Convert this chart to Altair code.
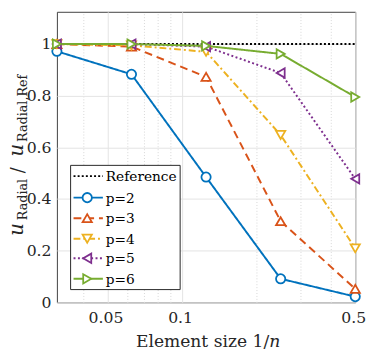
import altair as alt
import pandas as pd

# ---- data ----
element_size = [1/32, 1/16, 1/8, 1/4, 1/2]
series_names = ["p=2", "p=3", "p=4", "p=5", "p=6"]
p2 = [0.972, 0.883, 0.485, 0.091, 0.022]
p3 = [1.0, 0.99, 0.873, 0.314, 0.052]
p4 = [1.0, 0.995, 0.970, 0.648, 0.209]
p5 = [1.0, 1.0, 0.990, 0.888, 0.478]
p6 = [1.0, 1.0, 0.993, 0.962, 0.795]
reference_x = [1/32, 1/2]
reference_y = [1.0, 1.0]

x_major_ticks = [0.05, 0.1, 0.5]
x_minor_ticks = [0.04, 0.06, 0.07, 0.08, 0.09, 0.2, 0.3, 0.4]
y_ticks = [0, 0.2, 0.4, 0.6, 0.8, 1.0]

all_names = ["Reference"] + series_names
colors = ["#000000", "#0072BD", "#D95319", "#EDB120", "#7E2F8E", "#77AC30"]
dashes = [[2, 2.2], [1, 0], [8, 5], [7, 3, 2, 3], [2, 2.5], [1, 0]]
shapes = ["circle", "triangle-up", "triangle-down", "triangle-left", "triangle-right"]

rows = []
for name, ys in zip(series_names, [p2, p3, p4, p5, p6]):
    for x, y in zip(element_size, ys):
        rows.append({"x": x, "y": y, "series": name})
pts = pd.DataFrame(rows)
ref = pd.DataFrame({"x": reference_x, "y": reference_y, "series": ["Reference"] * 2})
lines_df = pd.concat([ref, pts], ignore_index=True)

FONT = "DejaVu Serif"
GRID = "#e3e3e3"

color_scale = alt.Scale(domain=all_names, range=colors)
x_scale = alt.Scale(type="log", domain=[1/32, 0.5], nice=False)
y_scale = alt.Scale(domain=[0, 1.125], nice=False, zero=False)

y_axis = alt.Axis(values=y_ticks, format="~g", title=None, grid=True, gridColor=GRID,
                  ticks=False, domain=False, labelFont=FONT, labelFontSize=16,
                  labelColor="#262626", labelPadding=6)
x_axis_main = alt.Axis(values=x_major_ticks, format="~g", title=None, grid=True,
                       gridColor=GRID, ticks=False, domain=False, labelFont=FONT,
                       labelFontSize=16, labelColor="#262626", labelPadding=8,
                       labelFlush=False, labelOffset=-2)
x_axis_minor = alt.Axis(values=x_minor_ticks, orient="top", title=None, labels=False,
                        ticks=False, domain=False, grid=True, gridColor="#d6d6d6",
                        gridDash=[1, 2])

lines = alt.Chart(lines_df).mark_line(strokeWidth=2).encode(
    x=alt.X("x:Q", scale=x_scale, axis=x_axis_main),
    y=alt.Y("y:Q", scale=y_scale, axis=y_axis),
    color=alt.Color("series:N", scale=color_scale, legend=None),
    strokeDash=alt.StrokeDash("series:N", scale=alt.Scale(domain=all_names, range=dashes),
                              legend=None),
    order=alt.Order("x:Q"),
)

points = alt.Chart(pts).mark_point(filled=False, fill="white", fillOpacity=1, opacity=1,
                                   size=90, strokeWidth=1.8).encode(
    x=alt.X("x:Q", scale=x_scale, axis=x_axis_minor),
    y=alt.Y("y:Q", scale=y_scale, axis=y_axis),
    color=alt.Color("series:N", scale=color_scale, legend=None),
    shape=alt.Shape("series:N", scale=alt.Scale(domain=series_names, range=shapes),
                    legend=None),
)

one = alt.Data(values=[{"k": 1}])

# ---- legend (drawn by hand to show line + marker samples) ----
legend_layers = [
    alt.Chart(one).mark_rect(fill="white", stroke="#262626", strokeWidth=1).encode(
        x=alt.value(14), x2=alt.value(126), y=alt.value(157), y2=alt.value(284))
]
entry_y = [168, 190, 211, 232, 252, 273]
for i, name in enumerate(all_names):
    legend_layers.append(
        alt.Chart(one).mark_rule(color=colors[i], strokeWidth=2, strokeDash=dashes[i]).encode(
            x=alt.value(17), x2=alt.value(47), y=alt.value(entry_y[i])))
    if i > 0:
        legend_layers.append(
            alt.Chart(one).mark_point(shape=shapes[i - 1], color=colors[i], filled=False,
                                      fill="white", fillOpacity=1, opacity=1, size=90,
                                      strokeWidth=1.8).encode(
                x=alt.value(31), y=alt.value(entry_y[i])))
    legend_layers.append(
        alt.Chart(one).mark_text(text=name, font=FONT, fontSize=14, align="left",
                                 baseline="middle", color="#000000").encode(
            x=alt.value(50), y=alt.value(entry_y[i] + 1)))

# ---- axis titles with sub-scripts / italics ----
def txt(t, x, y, size, italic=False, angle=0, align="left"):
    return alt.Chart(one).mark_text(text=t, font=FONT, fontSize=size,
                                    fontStyle="italic" if italic else "normal",
                                    angle=angle, align=align, baseline="alphabetic",
                                    color="#262626").encode(x=alt.value(x), y=alt.value(y))

title_layers = [
    txt("u", -35, 229, 20, italic=True, angle=270),
    txt("Radial", -31, 213, 13, angle=270),
    txt("/", -34, 162, 18, angle=270, align="center"),
    txt("u", -35, 148, 20, italic=True, angle=270),
    txt("Radial,Ref", -31, 133, 13, angle=270),
    txt("Element size 1/", 217, 343, 17.5, align="right"),
    txt("n", 217, 343, 17.5, italic=True),
]

chart = alt.layer(lines, points, *legend_layers, *title_layers).resolve_axis(
    x="independent"
).properties(
    width=305, height=297,
    autosize=alt.AutoSizeParams(type="none"),
    padding={"left": 50, "top": 0, "right": 11, "bottom": 50},
).configure_view(stroke="#404040", strokeWidth=1)

chart.save("out.html", embed_options={"renderer": "svg", "actions": False})
